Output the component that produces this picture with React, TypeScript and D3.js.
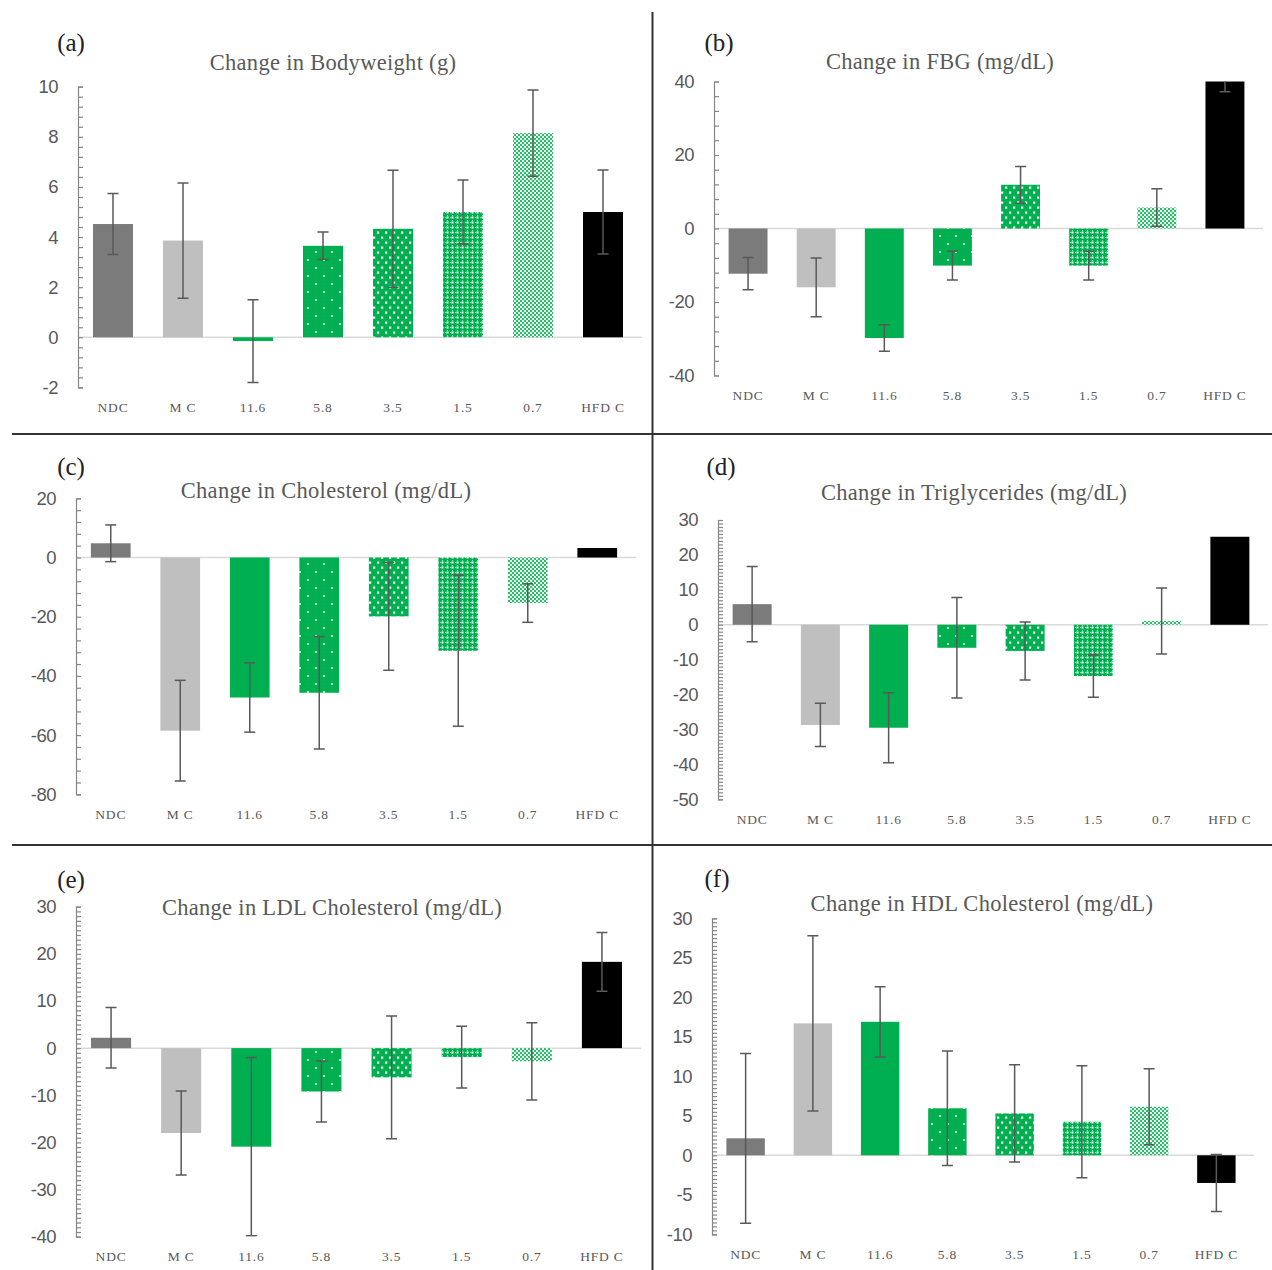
import React, { useEffect, useRef } from 'react';
import * as d3 from 'd3';

const categories = ['NDC', 'M C', '11.6', '5.8', '3.5', '1.5', '0.7', 'HFD C'];

// values (mean change, +/- error)
const bodyweightMeans = [4.52, 3.86, -0.15, 3.65, 4.33, 5.0, 8.15, 5.0];
const bodyweightErrors = [1.22, 2.3, 1.65, 0.55, 2.34, 1.28, 1.72, 1.68];

const fbgMeans = [-12.3, -16.0, -29.8, -10.1, 11.9, -10.1, 5.7, 40.5];
const fbgErrors = [4.4, 8.0, 3.6, 3.9, 5.0, 3.9, 5.1, 3.3];

const cholMeans = [4.8, -58.5, -47.3, -45.7, -19.9, -31.5, -15.4, 3.2];
const cholErrors = [6.2, 17.0, 11.7, 19.0, 18.2, 25.5, 6.5, 0];

const trigMeans = [5.9, -28.7, -29.5, -6.6, -7.5, -14.7, 1.1, 25.2];
const trigErrors = [10.8, 6.2, 10.0, 14.4, 8.3, 6.05, 9.45, 0];

const ldlMeans = [2.2, -18.0, -20.9, -9.2, -6.2, -1.9, -2.8, 18.3];
const ldlErrors = [6.4, 8.9, 18.9, 6.45, 13.0, 6.55, 8.2, 6.25];

const hdlMeans = [2.15, 16.7, 16.9, 5.95, 5.3, 4.25, 6.15, -3.5];
const hdlErrors = [10.75, 11.1, 4.45, 7.25, 6.15, 7.1, 4.8, 3.6];

const barFills = ['#7b7b7b', '#bfbfbf', '#00b050', 'url(#pat58)', 'url(#pat35)', 'url(#pat15)', 'url(#pat07)', '#000000'];

interface Panel {
  tag: string;
  title: string;
  means: number[];
  errors: number[];
  domain: [number, number];
  major: number;
  minor: number;
  x0: number;
  x1: number;
  yTop: number;
  yBot: number;
  titleX: number;
  titleY: number;
  tagX: number;
  tagY: number;
}

const panels: Panel[] = [
  { tag: '(a)', title: 'Change in Bodyweight (g)', means: bodyweightMeans, errors: bodyweightErrors,
    domain: [-2, 10], major: 2, minor: 0.4, x0: 78, x1: 638, yTop: 86.7, yBot: 387.4,
    titleX: 333, titleY: 62, tagX: 71, tagY: 42 },
  { tag: '(b)', title: 'Change in FBG (mg/dL)', means: fbgMeans, errors: fbgErrors,
    domain: [-40, 40], major: 20, minor: 4, x0: 714, x1: 1259, yTop: 81.5, yBot: 375.5,
    titleX: 940, titleY: 61, tagX: 719, tagY: 42 },
  { tag: '(c)', title: 'Change in Cholesterol (mg/dL)', means: cholMeans, errors: cholErrors,
    domain: [-80, 20], major: 20, minor: 4, x0: 76, x1: 632, yTop: 498.3, yBot: 794.3,
    titleX: 326, titleY: 490, tagX: 71, tagY: 466 },
  { tag: '(d)', title: 'Change in Triglycerides (mg/dL)', means: trigMeans, errors: trigErrors,
    domain: [-50, 30], major: 10, minor: 1, x0: 718, x1: 1264, yTop: 520, yBot: 799.3,
    titleX: 974, titleY: 492, tagX: 721, tagY: 466 },
  { tag: '(e)', title: 'Change in LDL Cholesterol (mg/dL)', means: ldlMeans, errors: ldlErrors,
    domain: [-40, 30], major: 10, minor: 1, x0: 76, x1: 637, yTop: 906.7, yBot: 1236.7,
    titleX: 332, titleY: 907, tagX: 71, tagY: 879 },
  { tag: '(f)', title: 'Change in HDL Cholesterol (mg/dL)', means: hdlMeans, errors: hdlErrors,
    domain: [-10, 30], major: 5, minor: 0.5, x0: 712, x1: 1250, yTop: 918.3, yBot: 1234.3,
    titleX: 982, titleY: 903, tagX: 717, tagY: 878 },
];

const W = 1272;
const H = 1270;
const serif = "'Liberation Serif', 'Times New Roman', serif";
const sans = "'Liberation Sans Narrow', 'Liberation Sans', Arial, sans-serif";
const green = '#00b050';

const App: React.FC = () => {
  const svgRef = useRef<SVGSVGElement>(null);

  useEffect(() => {
    if (!svgRef.current) return;
    const svg = d3.select(svgRef.current);
    svg.selectAll('*').remove();

    // Fill patterns for the dose groups
    const defs = svg.append('defs');
    const p58 = defs.append('pattern').attr('id', 'pat58').attr('patternUnits', 'userSpaceOnUse')
      .attr('width', 16).attr('height', 16);
    p58.append('rect').attr('width', 16).attr('height', 16).attr('fill', green);
    p58.append('circle').attr('cx', 4).attr('cy', 4).attr('r', 1).attr('fill', '#fff');
    p58.append('circle').attr('cx', 12).attr('cy', 12).attr('r', 1).attr('fill', '#fff');

    const p35 = defs.append('pattern').attr('id', 'pat35').attr('patternUnits', 'userSpaceOnUse')
      .attr('width', 8).attr('height', 10);
    p35.append('rect').attr('width', 8).attr('height', 10).attr('fill', green);
    p35.append('rect').attr('x', 1).attr('y', 1.5).attr('width', 2.2).attr('height', 2.2).attr('fill', '#fff');
    p35.append('rect').attr('x', 5).attr('y', 6.5).attr('width', 2.2).attr('height', 2.2).attr('fill', '#fff');

    const p15 = defs.append('pattern').attr('id', 'pat15').attr('patternUnits', 'userSpaceOnUse')
      .attr('width', 5).attr('height', 5);
    p15.append('rect').attr('width', 5).attr('height', 5).attr('fill', green);
    p15.append('rect').attr('x', 1.5).attr('y', 1.5).attr('width', 2).attr('height', 2).attr('fill', '#fff');
    p15.append('rect').attr('x', 0).attr('y', 2).attr('width', 1).attr('height', 1).attr('fill', '#9fe0bd');
    p15.append('rect').attr('x', 2).attr('y', 0).attr('width', 1).attr('height', 1).attr('fill', '#9fe0bd');

    const p07 = defs.append('pattern').attr('id', 'pat07').attr('patternUnits', 'userSpaceOnUse')
      .attr('width', 4).attr('height', 4);
    p07.append('rect').attr('width', 4).attr('height', 4).attr('fill', '#eaf8f0');
    p07.append('rect').attr('x', 0).attr('y', 0).attr('width', 2).attr('height', 2).attr('fill', '#2bbd6c');
    p07.append('rect').attr('x', 2).attr('y', 2).attr('width', 2).attr('height', 2).attr('fill', '#2bbd6c');

    // Panel separators
    svg.append('line').attr('x1', 652.5).attr('x2', 652.5).attr('y1', 12).attr('y2', H)
      .attr('stroke', '#333').attr('stroke-width', 2);
    [434, 845].forEach(yy => {
      svg.append('line').attr('x1', 12).attr('x2', W).attr('y1', yy).attr('y2', yy)
        .attr('stroke', '#333').attr('stroke-width', 2);
    });

    panels.forEach((p, pi) => {
      const g = svg.append('g');
      const y = d3.scaleLinear().domain(p.domain).range([p.yBot, p.yTop]);
      const x = d3.scaleBand<string>().domain(categories).range([p.x0, p.x1])
        .paddingInner(0.4286).paddingOuter(0.2143);
      const bw = x.bandwidth();

      const clipId = `clip-${pi}`;
      defs.append('clipPath').attr('id', clipId).append('rect')
        .attr('x', p.x0).attr('y', p.yTop).attr('width', p.x1 - p.x0 + 6).attr('height', p.yBot - p.yTop);

      // zero line
      g.append('line').attr('x1', p.x0).attr('x2', p.x1 + 4).attr('y1', y(0)).attr('y2', y(0))
        .attr('stroke', '#d9d9d9').attr('stroke-width', 1.5);

      const rows = categories.map((c, i) => ({ c, v: p.means[i], e: p.errors[i], fill: barFills[i] }));

      const plot = g.append('g').attr('clip-path', `url(#${clipId})`);
      plot.selectAll('rect.bar').data(rows).enter().append('rect')
        .attr('class', 'bar')
        .attr('x', d => x(d.c)!)
        .attr('width', bw)
        .attr('y', d => Math.min(y(d.v), y(0)))
        .attr('height', d => Math.abs(y(d.v) - y(0)))
        .attr('fill', d => d.fill);

      const errRows = rows.filter(d => d.e > 0);
      const cap = 5.5;
      const eg = plot.selectAll('g.err').data(errRows).enter().append('g').attr('class', 'err')
        .attr('stroke', '#595959').attr('stroke-width', 1.5);
      eg.append('line')
        .attr('x1', d => x(d.c)! + bw / 2).attr('x2', d => x(d.c)! + bw / 2)
        .attr('y1', d => y(d.v + d.e)).attr('y2', d => y(d.v - d.e));
      eg.append('line')
        .attr('x1', d => x(d.c)! + bw / 2 - cap).attr('x2', d => x(d.c)! + bw / 2 + cap)
        .attr('y1', d => y(d.v + d.e)).attr('y2', d => y(d.v + d.e));
      eg.append('line')
        .attr('x1', d => x(d.c)! + bw / 2 - cap).attr('x2', d => x(d.c)! + bw / 2 + cap)
        .attr('y1', d => y(d.v - d.e)).attr('y2', d => y(d.v - d.e));

      // y axis with inside ticks
      const nMinor = Math.round((p.domain[1] - p.domain[0]) / p.minor);
      const minorTicks = d3.range(0, nMinor + 1).map(k => +(p.domain[0] + k * p.minor).toFixed(4));
      const axis = g.append('g').attr('transform', `translate(${p.x0},0)`)
        .call(d3.axisRight(y).tickValues(minorTicks).tickSize(5).tickSizeOuter(5).tickFormat(() => ''));
      axis.selectAll('path, line').attr('stroke', '#868686').attr('stroke-width', 1.2);

      const nMajor = Math.round((p.domain[1] - p.domain[0]) / p.major);
      const majorTicks = d3.range(0, nMajor + 1).map(k => p.domain[0] + k * p.major);
      g.selectAll('text.ytick').data(majorTicks).enter().append('text')
        .attr('class', 'ytick')
        .attr('x', p.x0 - 20)
        .attr('y', d => y(d))
        .attr('dy', '0.35em')
        .attr('text-anchor', 'end')
        .attr('font-family', sans)
        .attr('font-size', 18.5)
        .attr('letter-spacing', -0.5)
        .attr('fill', '#595959')
        .text(d => String(d));

      // category labels
      g.selectAll('text.cat').data(categories).enter().append('text')
        .attr('class', 'cat')
        .attr('x', d => x(d)! + bw / 2)
        .attr('y', p.yBot + 20)
        .attr('dy', '0.35em')
        .attr('text-anchor', 'middle')
        .attr('font-family', serif)
        .attr('font-size', 13.5)
        .attr('letter-spacing', 0.8)
        .attr('fill', '#595959')
        .text(d => d);

      g.append('text')
        .attr('x', p.titleX).attr('y', p.titleY).attr('dy', '0.35em')
        .attr('text-anchor', 'middle')
        .attr('font-family', serif).attr('font-size', 22.5).attr('letter-spacing', 0.3)
        .attr('fill', '#595959')
        .text(p.title);

      g.append('text')
        .attr('x', p.tagX).attr('y', p.tagY).attr('dy', '0.35em')
        .attr('text-anchor', 'middle')
        .attr('font-family', serif).attr('font-size', 25)
        .attr('fill', '#222')
        .text(p.tag);
    });
  }, []);

  return (
    <svg
      ref={svgRef}
      width={W}
      height={H}
      style={{ position: 'absolute', left: 0, top: 0, background: '#fff' }}
    />
  );
};

export default App;
